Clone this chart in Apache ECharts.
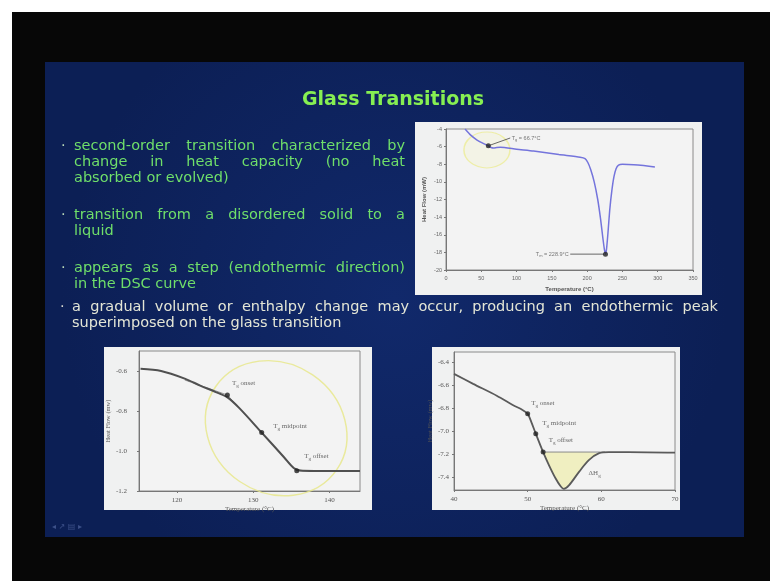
<!DOCTYPE html>
<html>
<head>
<meta charset="utf-8">
<script src="https://cdn.jsdelivr.net/npm/echarts@6/dist/echarts.min.js"></script>
<style>
  html, body { margin: 0; padding: 0; background: #ffffff; }
  #main { width: 770px; height: 581px; }
</style>
</head>
<body>
<div id="main"></div>
<script>
// ---- top chart: full DSC scan (Tg + melting peak)
const scanTemp = [27, 35, 44, 52, 60, 64, 67, 72, 77, 100, 124, 160, 190, 197, 201, 205, 210, 215, 219, 222, 224.5, 226, 227.5, 229.5, 232, 235, 238, 241, 244.5, 250, 266, 280, 296];
const scanFlow = [-4.0, -4.7, -5.25, -5.6, -5.9, -6.1, -6.15, -6.1, -6.07, -6.3, -6.5, -6.9, -7.2, -7.35, -7.8, -8.6, -10.0, -12.0, -14.2, -16.2, -17.7, -18.2, -17.6, -15.8, -13.2, -11.0, -9.4, -8.5, -8.1, -8.0, -8.05, -8.15, -8.3];
const scanMarks = [[60, -5.9], [226, -18.2]];
const scanTgLeader = [[62, -5.85], [91, -5.02]];
const scanTmLeader = [[176, -18.2], [224, -18.2]];
const scanTgText = 'T{s|g} = 66.7°C';
const scanTmText = 'T{s|m} = 228.9°C';
const scanXTicks = [0, 350, 50];
const scanYTicks = [-20, -4, 2];

// ---- bottom left: step change
const stepTemp = [115.2, 117.9, 121, 123.1, 125, 126.6, 128.2, 131.1, 134, 135.3, 136.2, 138, 144];
const stepFlow = [-0.589, -0.6, -0.638, -0.674, -0.704, -0.732, -0.787, -0.908, -1.03, -1.085, -1.098, -1.1, -1.1];
const stepTangent = [[121, -0.645], [126.6, -0.72], [135.7, -1.1], [137.5, -1.1]];
const stepMarks = [[126.6, -0.72], [131.1, -0.908], [135.7, -1.099]];
const stepXTicks = [120, 130, 140];
const stepYTicks = [-1.2, -1.0, -0.8, -0.6];

// ---- bottom right: step with relaxation peak
const relaxTemp = [40, 42.6, 45.8, 48.1, 49.2, 50.0, 50.5, 51.1, 52.1, 52.9, 53.8, 54.5, 54.9, 55.6, 57.0, 58.3, 59.7, 61.0, 63.7, 70];
const relaxFlow = [-6.5, -6.587, -6.69, -6.775, -6.81, -6.847, -6.92, -7.02, -7.18, -7.295, -7.41, -7.48, -7.5, -7.47, -7.35, -7.25, -7.19, -7.18, -7.18, -7.185];
const relaxBase = -7.18;
const relaxBaseLine = [[52.1, -7.18], [60.5, -7.18]];
const relaxMarks = [[50.0, -6.847], [51.1, -7.02], [52.1, -7.18]];
const relaxXTicks = [40, 70, 10];
const relaxYTicks = [-7.4, -7.2, -7.0, -6.8, -6.6, -6.4];
const deltaH = [[58.2, -7.36]];

const markNames = ['T{s|g} onset', 'T{s|g} midpoint', 'T{s|g} offset'];

const chart = echarts.init(document.getElementById('main'));

const zip = (a, b) => a.map((v, i) => [v, b[i]]);
const axisGray = { lineStyle: { color: '#777', width: 1 } };
const richSub = { s: { fontSize: 5, padding: [5, 0, 0, 0], color: '#444' } };
const clear = { color: 'rgba(0,0,0,0)' };

function markLabel(size) {
  return {
    show: true,
    position: 'right',
    distance: 2,
    fontSize: size,
    color: '#444',
    fontFamily: 'Liberation Serif',
    formatter: p => markNames[p.dataIndex],
    rich: richSub
  };
}

const option = {
  animation: false,
  grid: [
    { left: 446, top: 129, width: 247, height: 141, show: true, borderColor: '#8a8a8a', borderWidth: 1, backgroundColor: '#f3f3f3' },
    { left: 139, top: 351, width: 221, height: 140, show: true, borderColor: '#8a8a8a', borderWidth: 1, backgroundColor: '#f3f3f3' },
    { left: 454, top: 352, width: 221, height: 138, show: true, borderColor: '#8a8a8a', borderWidth: 1, backgroundColor: '#f3f3f3' }
  ],
  xAxis: [
    {
      gridIndex: 0, type: 'value', min: scanXTicks[0], max: scanXTicks[1], interval: scanXTicks[2],
      name: 'Temperature (°C)', nameLocation: 'middle', nameGap: 16,
      nameTextStyle: { fontSize: 6, color: '#555', fontWeight: 'bold' },
      axisLine: axisGray, axisTick: { length: 2 }, splitLine: { show: false },
      axisLabel: { fontSize: 5.5, color: '#666', margin: 5 }
    },
    {
      gridIndex: 1, type: 'value', min: 115, max: 144,
      name: 'Temperature (°C)', nameLocation: 'middle', nameGap: 15,
      nameTextStyle: { fontSize: 7, color: '#555', fontFamily: 'Liberation Serif' },
      axisLine: axisGray, axisTick: { length: 2, customValues: stepXTicks }, splitLine: { show: false },
      axisLabel: { fontSize: 7, color: '#555', margin: 6, customValues: stepXTicks, fontFamily: 'Liberation Serif' }
    },
    {
      gridIndex: 2, type: 'value', min: relaxXTicks[0], max: relaxXTicks[1], interval: relaxXTicks[2],
      name: 'Temperature (°C)', nameLocation: 'middle', nameGap: 15,
      nameTextStyle: { fontSize: 7, color: '#555', fontFamily: 'Liberation Serif' },
      axisLine: axisGray, axisTick: { length: 2 }, splitLine: { show: false },
      axisLabel: { fontSize: 7, color: '#555', margin: 6, fontFamily: 'Liberation Serif' }
    }
  ],
  yAxis: [
    {
      gridIndex: 0, type: 'value', min: scanYTicks[0], max: scanYTicks[1], interval: scanYTicks[2],
      name: 'Heat Flow (mW)', nameLocation: 'middle', nameGap: 19,
      nameTextStyle: { fontSize: 6, color: '#555', fontWeight: 'bold' },
      axisLine: axisGray, axisTick: { length: 2 }, splitLine: { show: false },
      axisLabel: { fontSize: 5.5, color: '#666', margin: 4 }
    },
    {
      gridIndex: 1, type: 'value', min: -1.2, max: -0.5,
      name: 'Heat Flow (mw)', nameLocation: 'middle', nameGap: 27,
      nameTextStyle: { fontSize: 6.5, color: '#555', fontFamily: 'Liberation Serif' },
      axisLine: axisGray, axisTick: { length: 2, customValues: stepYTicks }, splitLine: { show: false },
      axisLabel: { fontSize: 7, color: '#555', margin: 12, customValues: stepYTicks, fontFamily: 'Liberation Serif', formatter: v => v.toFixed(1) }
    },
    {
      gridIndex: 2, type: 'value', min: -7.51, max: -6.31,
      name: 'Heat Flow (mw)', nameLocation: 'middle', nameGap: 17,
      nameTextStyle: { fontSize: 6.5, color: '#555', fontFamily: 'Liberation Serif' },
      axisLine: axisGray, axisTick: { length: 2, customValues: relaxYTicks }, splitLine: { show: false },
      axisLabel: { fontSize: 7, color: '#555', margin: 5, customValues: relaxYTicks, fontFamily: 'Liberation Serif', formatter: v => v.toFixed(1) }
    }
  ],
  series: [
    // top chart
    {
      type: 'line', xAxisIndex: 0, yAxisIndex: 0, data: zip(scanTemp, scanFlow),
      smooth: 0.2, symbol: 'none', lineStyle: { color: '#7474dc', width: 1.5 }
    },
    {
      type: 'line', xAxisIndex: 0, yAxisIndex: 0, data: scanTgLeader,
      symbol: 'none', lineStyle: { color: '#444', width: 0.8 }
    },
    {
      type: 'line', xAxisIndex: 0, yAxisIndex: 0, data: scanTmLeader,
      symbol: 'none', lineStyle: { color: '#444', width: 0.8 }
    },
    {
      type: 'scatter', xAxisIndex: 0, yAxisIndex: 0, data: scanMarks,
      symbolSize: 5, itemStyle: { color: '#222' }, z: 5
    },
    {
      type: 'scatter', xAxisIndex: 0, yAxisIndex: 0, data: [scanTgLeader[1]],
      symbolSize: 1, itemStyle: clear,
      label: { show: true, position: 'right', distance: 1, fontSize: 5.5, color: '#555', formatter: scanTgText, rich: { s: { fontSize: 4, padding: [4, 0, 0, 0], color: '#555' } } }
    },
    {
      type: 'scatter', xAxisIndex: 0, yAxisIndex: 0, data: [scanTmLeader[0]],
      symbolSize: 1, itemStyle: clear,
      label: { show: true, position: 'left', distance: 1, fontSize: 5.5, color: '#555', formatter: scanTmText, rich: { s: { fontSize: 4, padding: [4, 0, 0, 0], color: '#555' } } }
    },
    // bottom left
    {
      type: 'line', xAxisIndex: 1, yAxisIndex: 1, data: stepTangent,
      symbol: 'none', lineStyle: { color: '#9a9a9a', width: 1 }
    },
    {
      type: 'line', xAxisIndex: 1, yAxisIndex: 1, data: zip(stepTemp, stepFlow),
      smooth: 0.3, symbol: 'none', lineStyle: { color: '#505050', width: 2 }
    },
    {
      type: 'scatter', xAxisIndex: 1, yAxisIndex: 1, data: stepMarks,
      symbolSize: 5, itemStyle: { color: '#222' }, z: 5,
      label: markLabel(7), labelLayout: p => ({ dx: [0, 7, 3][p.dataIndex], dy: [-12, -6, -15][p.dataIndex] })
    },
    // bottom right
    {
      type: 'line', xAxisIndex: 2, yAxisIndex: 2,
      data: zip(relaxTemp, relaxFlow).filter(d => d[0] >= 52.1 && d[0] <= 60),
      smooth: 0.3, symbol: 'none', lineStyle: { width: 0 },
      areaStyle: { origin: relaxBase, color: 'rgba(238,236,160,0.85)' }
    },
    {
      type: 'line', xAxisIndex: 2, yAxisIndex: 2, data: relaxBaseLine,
      symbol: 'none', lineStyle: { color: '#8a8a8a', width: 1 }
    },
    {
      type: 'line', xAxisIndex: 2, yAxisIndex: 2, data: zip(relaxTemp, relaxFlow),
      smooth: 0.3, symbol: 'none', lineStyle: { color: '#5a5a5a', width: 1.8 }
    },
    {
      type: 'scatter', xAxisIndex: 2, yAxisIndex: 2, data: relaxMarks,
      symbolSize: 5, itemStyle: { color: '#222' }, z: 5,
      label: markLabel(7), labelLayout: p => ({ dx: [-1, 2, 1][p.dataIndex], dy: [-11, -10, -12][p.dataIndex] })
    },
    {
      type: 'scatter', xAxisIndex: 2, yAxisIndex: 2, data: deltaH,
      symbolSize: 1, itemStyle: clear,
      label: { show: true, position: 'right', distance: 0, fontSize: 7, color: '#444', fontFamily: 'Liberation Serif', formatter: 'ΔH{s|g}', rich: richSub }
    }
  ]
};
chart.setOption(option);

// ---- slide text, laid out as justified lines like the slide
const measure = document.createElement('canvas').getContext('2d');
function textLine(str, x0, x1, y, font, color, justify) {
  if (!justify) {
    return [{ type: 'text', x: x0, y: y, z: 100, style: { text: str, font: font, fill: color, textVerticalAlign: 'middle' } }];
  }
  measure.font = font;
  const words = str.split(' ');
  const widths = words.map(w => measure.measureText(w).width);
  const used = widths.reduce((a, b) => a + b, 0);
  const gap = (x1 - x0 - used) / (words.length - 1);
  const out = [];
  let x = x0;
  words.forEach((w, i) => {
    out.push({ type: 'text', x: x, y: y, z: 100, style: { text: w, font: font, fill: color, textVerticalAlign: 'middle' } });
    x += widths[i] + gap;
  });
  return out;
}

const bodyFont = "14.5px 'DejaVu Sans'";
const green = '#6fdf6a';
const cream = '#e4e6d6';
let elements = [
  { type: 'rect', z: -100, shape: { x: 12, y: 12, width: 758, height: 569 }, style: { fill: '#070707' } },
  { type: 'rect', z: -99, shape: { x: 45, y: 62, width: 699, height: 475 },
    style: { fill: new echarts.graphic.RadialGradient(0.5, 0.5, 0.7, [{ offset: 0, color: '#11296b' }, { offset: 1, color: '#0c1f55' }]) } },
  { type: 'rect', z: -98, shape: { x: 415, y: 122, width: 287, height: 173 }, style: { fill: '#f0f1f1' } },
  { type: 'rect', z: -98, shape: { x: 104, y: 347, width: 268, height: 163 }, style: { fill: '#f0f1f1' } },
  { type: 'rect', z: -98, shape: { x: 432, y: 347, width: 248, height: 163 }, style: { fill: '#f0f1f1' } },
  { type: 'text', x: 393, y: 100, z: 100,
    style: { text: 'Glass Transitions', font: "bold 19px 'DejaVu Sans'", fill: '#86ef52', textAlign: 'center', textVerticalAlign: 'middle' } },
  { type: 'text', x: 52, y: 527, z: 100, style: { text: '◂ ↗ ▤ ▸', font: "8px 'DejaVu Sans'", fill: 'rgba(120,140,200,0.45)', textVerticalAlign: 'middle' } }
];
[146, 215, 268].forEach(y => elements.push({ type: 'text', x: 61, y: y, z: 100, style: { text: '·', font: bodyFont, fill: '#b8d8b8', textVerticalAlign: 'middle' } }));
elements.push({ type: 'text', x: 60, y: 307, z: 100, style: { text: '·', font: bodyFont, fill: '#d8d8d0', textVerticalAlign: 'middle' } });

elements = elements.concat(
  textLine('second-order transition characterized by', 74, 405, 146, bodyFont, green, true),
  textLine('change in heat capacity (no heat', 74, 405, 162, bodyFont, green, true),
  textLine('absorbed or evolved)', 74, 0, 178, bodyFont, green, false),
  textLine('transition from a disordered solid to a', 74, 405, 215, bodyFont, green, true),
  textLine('liquid', 74, 0, 231, bodyFont, green, false),
  textLine('appears as a step (endothermic direction)', 74, 405, 268, bodyFont, green, true),
  textLine('in the DSC curve', 74, 0, 284, bodyFont, green, false),
  textLine('a gradual volume or enthalpy change may occur, producing an endothermic peak', 72, 718, 307, bodyFont, cream, true),
  textLine('superimposed on the glass transition', 72, 0, 323, bodyFont, cream, false)
);

// hand-drawn yellow highlight rings
const ringTop = chart.convertToPixel({ gridIndex: 0 }, [58, -6.38]);
const ringLeft = chart.convertToPixel({ gridIndex: 1 }, [133, -0.886]);
elements.push(
  { type: 'circle', x: ringTop[0], y: ringTop[1], z: 1, scaleX: 1.15, scaleY: 0.9,
    shape: { cx: 0, cy: 0, r: 20 }, style: { fill: 'rgba(245,245,190,0.25)', stroke: 'rgba(236,236,150,0.8)', lineWidth: 1.3 } },
  { type: 'circle', x: ringLeft[0], y: ringLeft[1], z: 1, rotation: -0.6, scaleX: 1.08, scaleY: 0.95,
    shape: { cx: 0, cy: 0, r: 68 }, style: { fill: 'none', stroke: 'rgba(232,232,140,0.85)', lineWidth: 1.4 } }
);

chart.setOption({ graphic: { elements: elements } });
</script>
</body>
</html>
